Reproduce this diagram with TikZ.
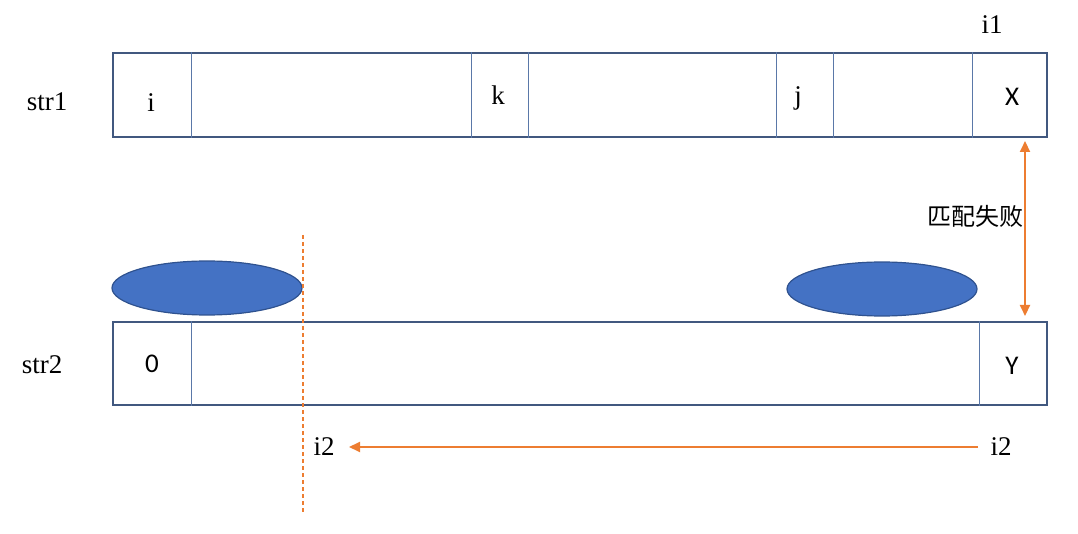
\documentclass[tikz,border=0pt]{standalone}
\usepackage{fontspec}
\setmainfont{Liberation Serif}
\newfontfamily\cellfont{Carlito}
\newfontfamily\cjkfont{Noto Sans CJK SC}
\usetikzlibrary{arrows.meta,positioning,shapes.geometric}

\definecolor{boxblue}{HTML}{41587F}
\definecolor{cellblue}{HTML}{5A78A8}
\definecolor{blobfill}{HTML}{4472C4}
\definecolor{blobline}{HTML}{2F528F}
\definecolor{accent}{HTML}{ED7D31}

\begin{document}
\begin{tikzpicture}[
        x = 1pt, y = -1pt, % pixel grid of the page
        > = {Triangle[length=11pt,width=10pt]}, % arrow head style
        semithick % line style
        ]

        \tikzset{
        strbox/.style = {draw = boxblue, line width = 2pt, fill = white,
            minimum width = 934pt, anchor = north west, inner sep = 0pt},
        cellline/.style = {draw = cellblue, line width = 0.9pt},
        blob/.style = {ellipse, draw = blobline, line width = 1.2pt, fill = blobfill,
            minimum width = 190pt, minimum height = 54pt},
        serif/.style = {font = \fontsize{27}{30}\selectfont, inner sep = 0pt},
        cell/.style = {font = \cellfont\fontsize{27}{30}\selectfont, inner sep = 0pt},
        failarrow/.style = {draw = accent, line width = 2pt}
        }

        \useasboundingbox (0,0) rectangle (1078,534);

        % the two strings
        \node[strbox, minimum height = 84pt] (s1) at (112,52) {};
        \node[strbox, minimum height = 83pt] (s2) at (112,321) {};

        \foreach \x in {191,471,528,776,833,972}
            \draw[cellline] (\x,0 |- s1.north) -- (\x,0 |- s1.south);
        \foreach \x in {191,979}
            \draw[cellline] (\x,0 |- s2.north) -- (\x,0 |- s2.south);

        \node[serif] (n1) at (47,102) {str1};
        \node[serif] (n2) at (42,365) {str2};

        \node[serif] (ci) at (151,103) {i};
        \node[serif] (ck) at (498,95) {k};
        \node[serif] (cj) at (798,98) {j};
        \node[cell] (cx) at (1012,97) {X};
        \node[serif] (i1) at (992,25) {i1};

        \node[cell] (c0) at (152,364) {0};
        \node[cell] (cy) at (1012,366) {Y};

        % matched parts
        \node[blob] (b1) at (207,288) {};
        \node[blob] (b2) at (882,289) {};

        % mismatch
        \coordinate (m1) at (1025,141);
        \coordinate (m2) at (1025,316);
        \draw[failarrow, <->] (m1) -- (m2);
        \node[font = \cjkfont\fontsize{24}{28}\selectfont, inner sep = 0pt] (fail) at (975,216) {匹配失败};

        % i2 moves back
        \node[serif] (i2l) at (324,447) {i2};
        \node[serif] (i2r) at (1001,447) {i2};
        \coordinate (a1) at (978,447);
        \coordinate (a2) at (349,447);
        \draw[failarrow, ->] (a1) -- (a2);

        \coordinate (d1) at (303,235);
        \coordinate (d2) at (303,512);
        \draw[color = accent, line width = 1.1pt, dash pattern = on 4pt off 3pt] (d1) -- (d2);

      \end{tikzpicture}
\end{document}
